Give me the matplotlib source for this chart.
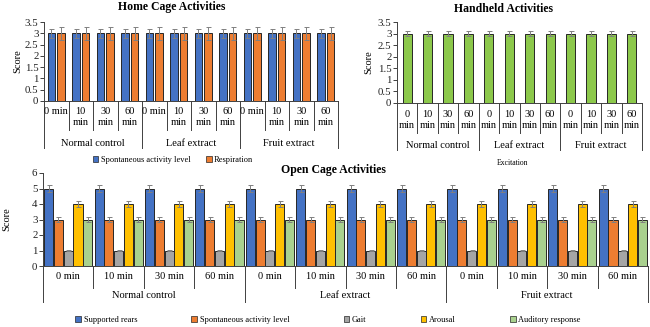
import matplotlib
matplotlib.use('Agg')
import matplotlib.pyplot as plt
import numpy as np
from matplotlib.patches import Patch
from matplotlib.transforms import blended_transform_factory

plt.rcParams['font.family'] = ['Liberation Serif', 'DejaVu Serif']

# data
groups = ['Normal control', 'Leaf extract', 'Fruit extract']
times = ['0 min', '10 min', '30 min', '60 min']

home_series = ['Spontaneous activity level', 'Respiration']
home_vals = [[3] * 12, [3] * 12]
home_err = [[0.2] * 12, [0.3] * 12]

hand_vals = [3] * 12
hand_err = [0.1] * 12

open_series = ['Supported rears', 'Spontaneous activity level', 'Gait', 'Arousal', 'Auditory response']
open_vals = [[5] * 12, [3] * 12, [1] * 12, [4] * 12, [3] * 12]
open_err = [[0.25] * 12, [0.15] * 12, [0.05] * 12, [0.2] * 12, [0.15] * 12]

blue, orange, gray, yellow, lgreen = '#4472C4', '#ED7D31', '#A5A5A5', '#FFC000', '#A9D18E'
hgreen = '#8CC84B'
edge = '#262626'
ecol = '#808080'

W, H = 650, 327
fig = plt.figure(figsize=(6.5, 3.27), dpi=100)


def make_ax(left, top, right, bottom):
    return fig.add_axes([left / W, 1 - bottom / H, (right - left) / W, (bottom - top) / H])


def style(ax, ymax, step):
    ax.set_ylim(0, ymax)
    ax.set_xlim(-0.5, 11.5)
    ax.set_yticks(np.arange(0, ymax + 0.01, step))
    ax.set_yticklabels(['%g' % v for v in np.arange(0, ymax + 0.01, step)], fontsize=7.8)
    ax.set_xticks([])
    for s in ['top', 'right']:
        ax.spines[s].set_visible(False)
    ax.spines['left'].set_color('#404040')
    ax.spines['bottom'].set_color('#404040')
    ax.spines['left'].set_linewidth(0.7)
    ax.spines['bottom'].set_linewidth(0.7)
    ax.tick_params(axis='y', length=3, width=0.6, pad=1, colors='#202020')


def multilevel(ax, labels, lab_px, cat_px, grp_lab_px, grp_px):
    hpx = ax.get_position().height * H
    tr = blended_transform_factory(ax.transData, ax.transAxes)
    f = lambda p: -p / hpx
    n = len(labels)
    for i, lab in enumerate(labels):
        ax.text(i, f(lab_px), lab, transform=tr, ha='center', va='top',
                fontsize=7.5, linespacing=1.25, clip_on=False)
    for i in range(n + 1):
        x = i - 0.5
        d = grp_px if i % 4 == 0 else cat_px
        ax.plot([x, x], [0, f(d)], transform=tr, color='#404040', lw=0.7, clip_on=False)
    for g, name in enumerate(groups):
        ax.text(g * 4 + 1.5, f(grp_lab_px), name, transform=tr, ha='center', va='center',
                fontsize=7.5, clip_on=False)


x = np.arange(12)

# Home cage
ax1 = make_ax(44, 22, 338, 101)
w = 0.3
for k, (vals, err, c) in enumerate(zip(home_vals, home_err, [blue, orange])):
    ax1.bar(x + (k - 0.5) * 0.4, vals, w, color=c, edgecolor=edge, lw=0.7,
            yerr=err, ecolor=ecol, capsize=1.8, error_kw=dict(elinewidth=0.7, capthick=0.7),
            label=home_series[k])
style(ax1, 3.5, 0.5)
lab1 = ['0 min' if t == '0 min' else t.replace(' ', '\n') for t in times] * 3
multilevel(ax1, lab1, 6, 29, 42, 47)
ax1.set_ylabel('Score', fontsize=7.5, labelpad=2)
fig.text(172 / W, 1 - 7 / H, 'Home Cage Activities', ha='center', va='center',
         fontsize=8.5, fontweight='bold')
fig.legend(handles=[Patch(facecolor=blue, edgecolor=edge, lw=0.5, label=home_series[0]),
                    Patch(facecolor=orange, edgecolor=edge, lw=0.5, label=home_series[1])],
           loc='center', bbox_to_anchor=(173 / W, 1 - 160 / H), ncol=2, frameon=False,
           fontsize=6, handlelength=0.7, handleheight=0.7, handletextpad=0.3, columnspacing=1.8)

# Handheld
ax2 = make_ax(397, 22, 642, 103)
ax2.bar(x, hand_vals, 0.45, color=hgreen, edgecolor=edge, lw=0.7,
        yerr=hand_err, ecolor=ecol, capsize=1.8, error_kw=dict(elinewidth=0.7, capthick=0.7))
style(ax2, 3.5, 0.5)
lab2 = [t.replace(' ', '\n') for t in times] * 3
multilevel(ax2, lab2, 7, 30, 42, 47)
ax2.set_ylabel('Score', fontsize=7.5, labelpad=3)
fig.text(503 / W, 1 - 9 / H, 'Handheld Activities', ha='center', va='center',
         fontsize=8.5, fontweight='bold')
fig.text(513 / W, 1 - 163 / H, 'Excitation', ha='center', va='center', fontsize=5.5)

# Open cage
ax3 = make_ax(43, 173, 648, 266)
cols = [blue, orange, gray, yellow, lgreen]
for k in range(5):
    ax3.bar(x + (k - 2) * 0.194, open_vals[k], 0.18, color=cols[k], edgecolor=edge, lw=0.7,
            yerr=open_err[k], ecolor=ecol, capsize=1.8, error_kw=dict(elinewidth=0.7, capthick=0.7),
            label=open_series[k])
style(ax3, 6, 1)
multilevel(ax3, times * 3, 6, 22, 29, 36)
ax3.set_ylabel('Score', fontsize=7.5, labelpad=15)
fig.text(333 / W, 1 - 170 / H, 'Open Cage Activities', ha='center', va='center',
         fontsize=8.5, fontweight='bold')
fig.legend(handles=[Patch(facecolor=c, edgecolor=edge, lw=0.5, label=s) for c, s in zip(cols, open_series)],
           loc='center', bbox_to_anchor=(328 / W, 1 - 320 / H), ncol=5, frameon=False,
           fontsize=6, handlelength=0.7, handleheight=0.7, handletextpad=0.3, columnspacing=6.5)

fig.savefig('out.png', dpi=100)
